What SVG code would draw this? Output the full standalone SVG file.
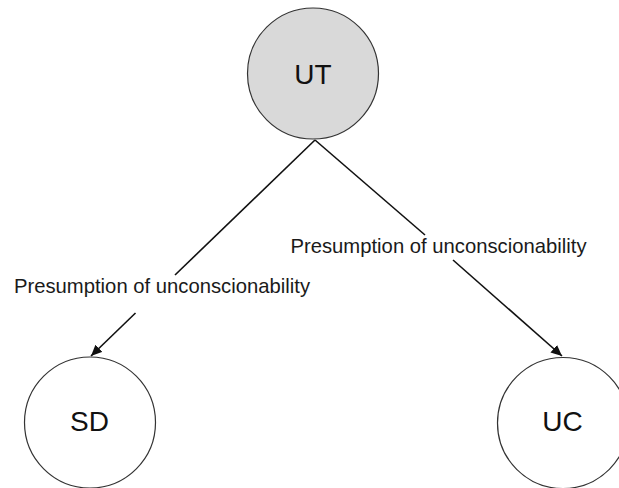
<svg xmlns="http://www.w3.org/2000/svg" width="619" height="488" viewBox="0 0 619 488">
  <style>
    .node { stroke: #333; stroke-width: 1.2; }
    .nlabel { font-family: "Liberation Sans", Arial, sans-serif; font-size: 28px; fill: #111; text-anchor: middle; }
    .elabel { font-family: "Liberation Sans", Arial, sans-serif; font-size: 20.25px; fill: #1a1a1a; text-anchor: middle; }
    .edge { stroke: #111; stroke-width: 1.6; fill: none; }
  </style>
  <defs>
    <marker id="arrow" viewBox="0 0 11 10" refX="11" refY="5" markerWidth="11" markerHeight="10" markerUnits="userSpaceOnUse" orient="auto">
      <path d="M0,0 L11,5 L0,10 Z" fill="#111"/>
    </marker>
  </defs>
  <rect width="619" height="488" fill="#fff"/>
  <g id="connectors">
    <g id="edge-ut-sd">
      <path class="edge" d="M315,140 L175,275"/>
      <path class="edge" d="M135.5,313 L91,356" marker-end="url(#arrow)"/>
      <text class="elabel" x="162" y="293">Presumption of unconscionability</text>
    </g>
    <g id="edge-ut-uc">
      <path class="edge" d="M315,140 L425,235"/>
      <path class="edge" d="M453,260 L562,356" marker-end="url(#arrow)"/>
      <text class="elabel" x="438.5" y="253">Presumption of unconscionability</text>
    </g>
  </g>
  <g id="node-UT">
    <circle class="node" cx="313" cy="73.5" r="65.5" fill="#d9d9d9"/>
    <text class="nlabel" x="313" y="83.5">UT</text>
  </g>
  <g id="node-SD">
    <circle class="node" cx="90" cy="422.5" r="65.5" fill="#fff"/>
    <text class="nlabel" x="89.5" y="430.5">SD</text>
  </g>
  <g id="node-UC">
    <circle class="node" cx="563" cy="423" r="65.5" fill="#fff"/>
    <text class="nlabel" x="562.5" y="430.5">UC</text>
  </g>
</svg>
